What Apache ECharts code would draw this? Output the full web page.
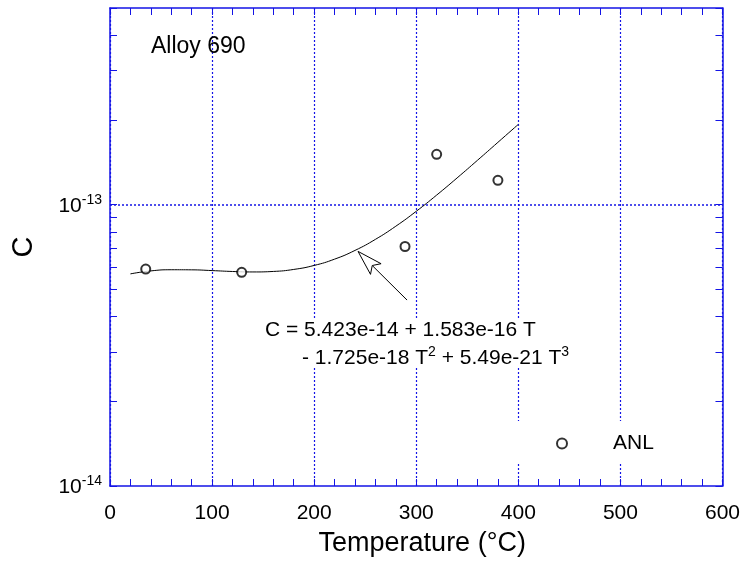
<!DOCTYPE html>
<html>
<head>
<meta charset="utf-8">
<script src="https://cdn.jsdelivr.net/npm/echarts@6/dist/echarts.min.js"></script>
<style>html,body{margin:0;padding:0;background:#fff;}#c{width:743px;height:562px;}</style>
</head>
<body>
<div id="c"></div>
<script>
// ---- data ----
var anlT = [35, 129, 289, 320, 380];
var anlC = [5.9e-14, 5.75e-14, 7.1e-14, 1.51e-13, 1.22e-13];
var fitT = [20, 40, 60, 80, 100, 120, 140, 160, 180, 200, 220, 240, 260, 280, 300, 320, 340, 360, 380, 400];
var fitC = [5.675e-14, 5.815e-14, 5.870e-14, 5.866e-14, 5.830e-14, 5.787e-14, 5.765e-14, 5.789e-14, 5.885e-14, 6.081e-14,
            6.402e-14, 6.876e-14, 7.527e-14, 8.383e-14, 9.470e-14, 1.0814e-13, 1.2442e-13, 1.4379e-13, 1.6652e-13, 1.9291e-13];
var yLabelValues = [1e-14, 1e-13];
var yTickValues = [1e-14, 2e-14, 3e-14, 4e-14, 5e-14, 6e-14, 7e-14, 8e-14, 9e-14, 1e-13, 2e-13, 3e-13, 4e-13, 5e-13];
var yGridValues = [1e-13];
var arrowTail = [291, 4.58e-14];
var arrowTip = [243, 6.82e-14];
var titleText = 'Alloy 690';
var seriesName = 'ANL';
var eqLine1 = 'C = 5.423e-14 + 1.583e-16 T';
var eqLine2a = '- 1.725e-18 T';
var eqLine2b = ' + 5.49e-21 T';

var FONT = "'Liberation Sans', Arial, Helvetica, sans-serif";
var BLUE = '#1414e6';

var anlData = anlT.map(function (t, i) { return [t, anlC[i]]; });
var fitData = fitT.map(function (t, i) { return [t, fitC[i]]; });

var chart = echarts.init(document.getElementById('c'));

function xAxisDef(pos, showLabel) {
  return {
    type: 'value', position: pos, min: 0, max: 600, interval: 100,
    name: pos === 'bottom' ? 'Temperature (°C)' : '',
    nameLocation: 'middle', nameGap: 44,
    nameTextStyle: { fontFamily: FONT, fontSize: 27, color: '#000', padding: [0, 0, 0, 12] },
    axisLine: { show: true, onZero: false, lineStyle: { color: BLUE, width: 1.5 } },
    axisTick: { show: true, inside: true, length: 7, lineStyle: { color: BLUE, width: 1 } },
    minorTick: { show: true, splitNumber: 5, length: 7, lineStyle: { color: BLUE, width: 1 } },
    axisLabel: { show: showLabel, margin: 17, fontFamily: FONT, fontSize: 21, color: '#000' },
    splitLine: { show: pos === 'bottom', lineStyle: { color: BLUE, type: [2, 2], width: 1.2 } }
  };
}

function yAxisDef(pos, showLabel) {
  return {
    type: 'log', logBase: 10, position: pos, min: 1e-14, max: 5e-13,
    name: pos === 'left' ? 'C' : '',
    nameLocation: 'middle', nameGap: 72,
    nameTextStyle: { fontFamily: FONT, fontSize: 29, color: '#000' },
    axisLine: { show: true, onZero: false, lineStyle: { color: BLUE, width: 1.5 } },
    axisTick: { show: true, inside: true, length: 7, customValues: yTickValues, lineStyle: { color: BLUE, width: 1 } },
    axisLabel: {
      show: showLabel, margin: 8, customValues: yLabelValues,
      formatter: function (v) {
        var e = Math.round(Math.log(v) / Math.LN10);
        return '{b|10}{s|' + e + '}';
      },
      rich: {
        b: { fontFamily: FONT, fontSize: 21, color: '#000', lineHeight: 24, verticalAlign: 'bottom' },
        s: { fontFamily: FONT, fontSize: 14, color: '#000', lineHeight: 14, verticalAlign: 'top' }
      }
    },
    splitLine: { show: false }
  };
}

var yGridAxis = {
  type: 'log', logBase: 10, position: 'left', min: 1e-14, max: 5e-13,
  axisLine: { show: false },
  axisTick: { show: false, customValues: yGridValues },
  axisLabel: { show: false, customValues: yGridValues },
  splitLine: { show: true, lineStyle: { color: BLUE, type: [2, 2], width: 1.5 } }
};

var option = {
  backgroundColor: '#fff',
  animation: false,
  textStyle: { fontFamily: FONT },
  grid: { left: 110, right: 20, top: 8, bottom: 72, containLabel: false },
  xAxis: [xAxisDef('bottom', true), xAxisDef('top', false)],
  yAxis: [yAxisDef('left', true), yAxisDef('right', false), yGridAxis],
  legend: {
    data: [seriesName],
    left: 556, top: 433,
    padding: 0,
    itemWidth: 10, itemHeight: 10,
    textStyle: { fontFamily: FONT, fontSize: 21, color: '#000', padding: [0, 0, 0, 41] }
  },
  graphic: [
    { type: 'text', left: 151, top: 35, z: 100,
      style: { text: titleText, font: '23px ' + FONT, fill: '#000' } },
    { type: 'rect', z: 3, shape: { x: 513, y: 421, width: 150, height: 42 }, style: { fill: '#fff' } },
    { type: 'rect', z: 99, shape: { x: 262, y: 318, width: 318, height: 50 }, style: { fill: '#fff' } },
    { type: 'text', left: 265, top: 320, z: 100,
      style: { text: eqLine1, font: '21px ' + FONT, fill: '#000' } },
    { type: 'text', left: 302, top: 345, z: 100,
      style: {
        text: '{m|' + eqLine2a + '}{s|2}{m|' + eqLine2b + '}{s|3}',
        rich: {
          m: { fontFamily: FONT, fontSize: 21, fill: '#000', color: '#000', lineHeight: 24, verticalAlign: 'bottom' },
          s: { fontFamily: FONT, fontSize: 14, fill: '#000', color: '#000', lineHeight: 14, verticalAlign: 'top' }
        }
      } }
  ],
  series: [
    {
      name: 'fit', type: 'line', data: fitData, smooth: true, showSymbol: false, symbol: 'none',
      lineStyle: { color: '#000', width: 1 }, z: 5
    },
    {
      name: seriesName, type: 'scatter', data: anlData, symbol: 'emptyCircle', symbolSize: 9,
      itemStyle: { color: '#000', borderWidth: 1 }, z: 6
    },
    {
      name: 'arrow', type: 'custom', z: 7,
      data: [[arrowTail[0], arrowTail[1], arrowTip[0], arrowTip[1]]],
      renderItem: function (params, api) {
        var tail = api.coord([api.value(0), api.value(1)]);
        var tip = api.coord([api.value(2), api.value(3)]);
        var dx = tail[0] - tip[0], dy = tail[1] - tip[1];
        var len = Math.sqrt(dx * dx + dy * dy);
        var ux = dx / len, uy = dy / len, px = -uy, py = ux;
        var hl = 25, hw = 7.5, nl = 20;
        var b1 = [tip[0] + ux * hl + px * hw, tip[1] + uy * hl + py * hw];
        var b2 = [tip[0] + ux * hl - px * hw, tip[1] + uy * hl - py * hw];
        var notch = [tip[0] + ux * nl, tip[1] + uy * nl];
        return {
          type: 'group',
          children: [
            { type: 'line', shape: { x1: notch[0], y1: notch[1], x2: tail[0], y2: tail[1] },
              style: { stroke: '#000', lineWidth: 1 } },
            { type: 'polygon', shape: { points: [tip, b1, notch, b2] },
              style: { fill: '#fff', stroke: '#000', lineWidth: 1 } }
          ]
        };
      }
    }
  ]
};
chart.setOption(option);
</script>
</body>
</html>
